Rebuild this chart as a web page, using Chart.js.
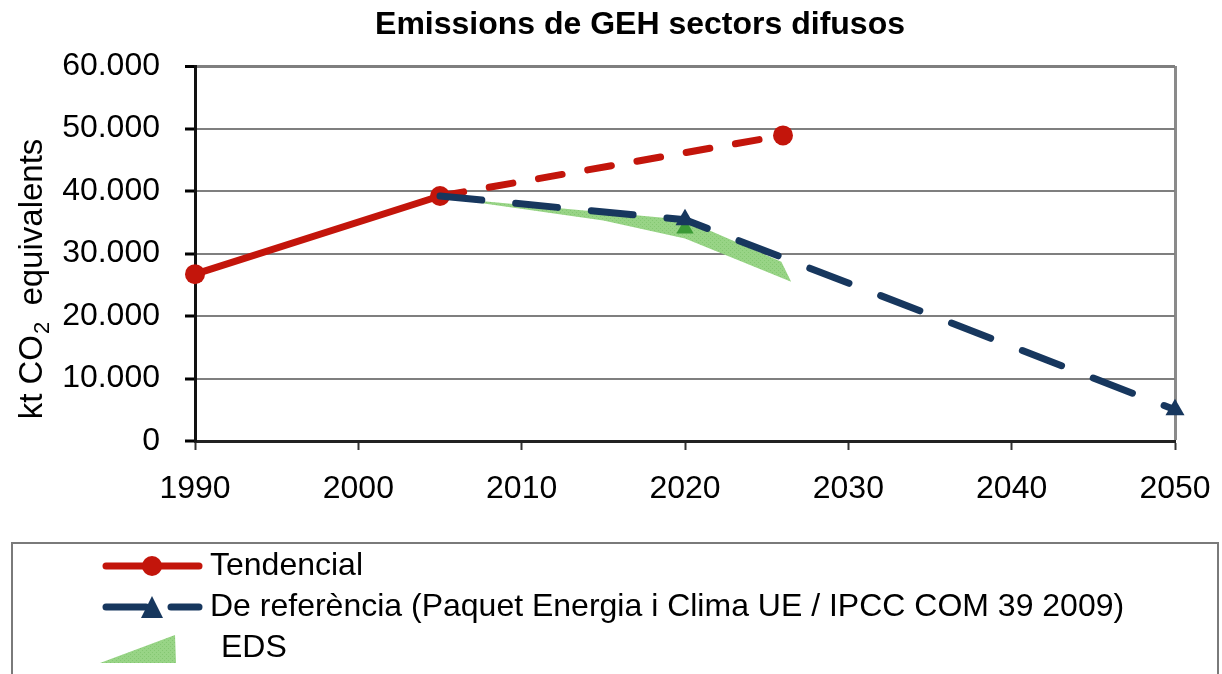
<!DOCTYPE html>
<html lang="ca">
<head>
<meta charset="UTF-8">
<title>Emissions de GEH sectors difusos</title>
<script src="https://cdn.jsdelivr.net/npm/chart.js"></script>
<style>
  html, body { margin: 0; padding: 0; background: #fff; }
  #wrap { width: 1222px; height: 674px; position: relative; }
</style>
</head>
<body>
<div id="wrap"><canvas id="chart"></canvas></div>
<script>
// --- data ---
const chartTitle = "Emissions de GEH sectors difusos";
const yTitleParts = ["kt CO", "2", " equivalents"];
const xMin = 1990, xMax = 2050, xStep = 10;
const yMin = 0, yMax = 60000, yStep = 10000;

const tendLabel = "Tendencial";
const tendYears = [1990, 2005, 2026];
const tendValues = [26700, 39200, 48900];

const refLabel = "De referència (Paquet Energia i Clima UE / IPCC COM 39 2009)";
const refYears = [2005, 2020, 2050];
const refValues = [39200, 35400, 5000];

const edsLabel = "EDS";
const edsUpperYears = [2005, 2015, 2020, 2025.9, 2026.5];
const edsUpperValues = [39000, 36600, 35400, 28700, 25500];
const edsLowerYears = [2005, 2015, 2020, 2026.5];
const edsLowerValues = [39000, 35300, 32400, 25500];
const edsMarkYears = [2020];
const edsMarkValues = [34000];

const FONT = '"Liberation Sans", Arial, sans-serif';
const RED = '#c3150b', NAVY = '#17375e', GREEN_DARK = '#3b9a36';

function pts(xs, ys) { return xs.map((x, i) => ({ x: x, y: ys[i] })); }
function fmtThousands(v) { return String(v).replace(/\B(?=(\d{3})+(?!\d))/g, '.'); }

// light green hatch used for the EDS band
function greenHatch() {
  const c = document.createElement('canvas');
  c.width = 4; c.height = 4;
  const g = c.getContext('2d');
  g.fillStyle = '#98d486'; g.fillRect(0, 0, 4, 4);
  g.fillStyle = '#84c772';
  g.fillRect(0, 0, 1, 1); g.fillRect(2, 2, 1, 1);
  return g.createPattern(c, 'repeat');
}
const hatch = greenHatch();

// title, y axis title (with subscript) and the boxed legend
const decorations = {
  id: 'decorations',
  afterDraw(chart) {
    const ctx = chart.ctx;
    ctx.save();
    ctx.fillStyle = '#000';
    ctx.font = 'bold 32px ' + FONT;
    ctx.textAlign = 'center'; ctx.textBaseline = 'middle';
    ctx.fillText(chartTitle, 640, 25);

    // y axis title, rotated
    ctx.translate(33, 279);
    ctx.rotate(-Math.PI / 2);
    ctx.textAlign = 'left'; ctx.textBaseline = 'middle';
    ctx.font = '33px ' + FONT;
    const w0 = ctx.measureText(yTitleParts[0]).width;
    ctx.font = '22px ' + FONT;
    const w1 = ctx.measureText(yTitleParts[1]).width;
    ctx.font = '33px ' + FONT;
    const w2 = ctx.measureText(yTitleParts[2]).width;
    let x = -(w0 + w1 + w2 + 8) / 2;
    ctx.fillText(yTitleParts[0], x, 0); x += w0;
    ctx.font = '22px ' + FONT;
    ctx.fillText(yTitleParts[1], x + 1, 10); x += w1 + 8;
    ctx.font = '33px ' + FONT;
    ctx.fillText(yTitleParts[2], x, 0);
    ctx.restore();

    // legend
    ctx.save();
    ctx.strokeStyle = '#7a7a7a'; ctx.lineWidth = 2;
    ctx.strokeRect(12, 543, 1206, 160);
    ctx.lineCap = 'round';

    ctx.strokeStyle = RED; ctx.lineWidth = 7;
    ctx.beginPath(); ctx.moveTo(106, 566); ctx.lineTo(199, 566); ctx.stroke();
    ctx.fillStyle = RED;
    ctx.beginPath(); ctx.arc(152, 566, 10, 0, Math.PI * 2); ctx.fill();

    ctx.strokeStyle = NAVY;
    ctx.beginPath(); ctx.moveTo(106, 607); ctx.lineTo(146, 607); ctx.stroke();
    ctx.beginPath(); ctx.moveTo(171, 607); ctx.lineTo(199, 607); ctx.stroke();
    ctx.fillStyle = NAVY;
    ctx.beginPath(); ctx.moveTo(152, 596); ctx.lineTo(163, 618); ctx.lineTo(141, 618); ctx.closePath(); ctx.fill();

    ctx.fillStyle = hatch;
    ctx.beginPath(); ctx.moveTo(100, 663); ctx.lineTo(175, 635); ctx.lineTo(176, 663); ctx.closePath(); ctx.fill();

    ctx.fillStyle = '#000';
    ctx.font = '32px ' + FONT;
    ctx.textAlign = 'left'; ctx.textBaseline = 'middle';
    ctx.fillText(tendLabel, 210, 566);
    ctx.fillText(refLabel, 210, 607);
    ctx.fillText(edsLabel, 221, 648);
    ctx.restore();
  }
};

new Chart(document.getElementById('chart'), {
  type: 'line',
  data: {
    datasets: [
      {
        label: refLabel, data: pts(refYears, refValues),
        borderColor: NAVY, backgroundColor: NAVY, borderWidth: 7,
        borderDash: [42, 34], borderCapStyle: 'round',
        pointStyle: 'triangle', pointRadius: [0, 11, 11],
        pointBackgroundColor: NAVY, pointBorderColor: NAVY, pointBorderWidth: 0,
        fill: false, clip: false
      },
      {
        label: edsLabel + ' marker', data: pts(edsMarkYears, edsMarkValues),
        showLine: false, pointStyle: 'triangle', pointRadius: 10,
        pointBackgroundColor: GREEN_DARK, pointBorderColor: GREEN_DARK, pointBorderWidth: 0
      },
      {
        label: tendLabel, data: pts(tendYears, tendValues),
        borderColor: RED, backgroundColor: RED, borderWidth: 7,
        borderCapStyle: 'round',
        segment: { borderDash: c => c.p0DataIndex >= 1 ? [24, 26] : undefined },
        pointStyle: 'circle', pointRadius: 10,
        pointBackgroundColor: RED, pointBorderColor: RED, pointBorderWidth: 0,
        fill: false, clip: false
      },
      {
        label: edsLabel, data: pts(edsUpperYears, edsUpperValues),
        borderColor: 'rgba(0,0,0,0)', borderWidth: 1, pointRadius: 0,
        backgroundColor: hatch, fill: '+1'
      },
      {
        label: edsLabel + ' lower', data: pts(edsLowerYears, edsLowerValues),
        borderColor: 'rgba(0,0,0,0)', borderWidth: 1, pointRadius: 0, fill: false
      }
    ]
  },
  options: {
    responsive: true,
    maintainAspectRatio: false,
    animation: false,
    layout: { padding: { top: 66, right: 47, bottom: 143, left: 0 } },
    plugins: { legend: { display: false }, title: { display: false }, tooltip: { enabled: false } },
    scales: {
      x: {
        type: 'linear', min: xMin, max: xMax,
        afterFit: s => { s.height = 90; s.paddingLeft = 0; s.paddingRight = 0; },
        ticks: { stepSize: xStep, color: '#000', padding: 20, font: { family: FONT, size: 32 },
                 callback: v => String(v), maxRotation: 0 },
        grid: {
          drawOnChartArea: true,
          color: c => (c.tick && c.tick.value === xMax) ? '#8a8a8a' : 'rgba(0,0,0,0)',
          lineWidth: c => (c.tick && c.tick.value === xMax) ? 3 : 1,
          tickColor: '#333', tickWidth: 2, tickLength: 9
        },
        border: { color: '#222', width: 3 }
      },
      y: {
        min: yMin, max: yMax,
        afterFit: s => { s.width = 195; s.paddingTop = 0; s.paddingBottom = 0; },
        ticks: { stepSize: yStep, color: '#000', padding: 25, font: { family: FONT, size: 32 },
                 callback: v => fmtThousands(v) },
        grid: {
          color: '#7f7f7f',
          lineWidth: c => (c.tick && c.tick.value === yMax) ? 3 : 2,
          tickColor: '#000', tickWidth: 3, tickLength: 10
        },
        border: { color: '#111', width: 3 }
      }
    }
  },
  plugins: [decorations]
});
</script>
</body>
</html>
